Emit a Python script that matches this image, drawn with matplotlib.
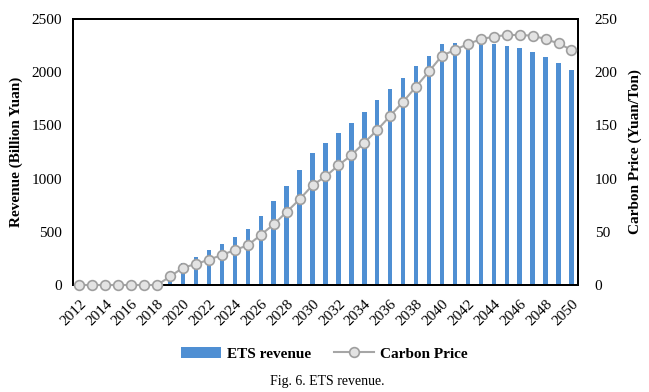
import matplotlib.pyplot as plt
import numpy as np

plt.rcParams['font.family'] = ['Liberation Serif', 'DejaVu Serif']

# Inputs
years = list(range(2012, 2051))
ets_revenue = [0, 0, 0, 0, 0, 0, 0, 40, 204, 266, 329, 388, 451, 523, 648, 786, 927,
               1081, 1244, 1335, 1432, 1526, 1629, 1736, 1839, 1945, 2055, 2155,
               2265, 2271, 2278, 2271, 2268, 2250, 2224, 2187, 2140, 2090, 2024]
carbon_price = [0, 0, 0, 0, 0, 0, 0, 8, 16.3, 19.7, 23.8, 28.2, 32.9, 37.3, 47, 57,
                68.6, 80.5, 93.7, 102, 112.5, 122, 133.8, 145.7, 159, 172.3, 186.4,
                200.8, 215.5, 221, 226.5, 231, 233.4, 235, 235, 234.3, 231.2, 227, 221]

x = np.arange(len(years))

fig = plt.figure(figsize=(6.49, 3.92), dpi=100)
ax = fig.add_axes([0.1125, 0.273, 0.778, 0.6785])
ax2 = ax.twinx()

bars = ax.bar(x, ets_revenue, width=0.34, color='#4F8FD3', label='ETS revenue', zorder=2)
line, = ax2.plot(x, carbon_price, color='#A6A6A6', linewidth=1.5, marker='o', markersize=7,
                 markerfacecolor='#E3E3E3', markeredgecolor='#9E9E9E', markeredgewidth=1.2,
                 label='Carbon Price', clip_on=False, zorder=3)

ax.set_xlim(-0.5, len(years) - 0.5)
ax.set_ylim(0, 2500)
ax2.set_ylim(0, 250)
ax.set_yticks(np.arange(0, 2501, 500))
ax2.set_yticks(np.arange(0, 251, 50))
ax.set_xticks(x[::2])
ax.set_xticklabels([str(y) for y in years[::2]], rotation=45, ha='right', rotation_mode='anchor')

for a in (ax, ax2):
    a.tick_params(length=0, labelsize=11, pad=8)
    for s in a.spines.values():
        s.set_linewidth(1.4)
        s.set_color('black')
ax.tick_params(axis='x', pad=9)
ax2.tick_params(axis='y', pad=12)

ax.set_ylabel('Revenue (Billion Yuan)', fontsize=11, fontweight='bold', labelpad=6)
ax2.set_ylabel('Carbon Price (Yuan/Ton)', fontsize=11, fontweight='bold', labelpad=8)

fig.legend([bars, line], ['ETS revenue', 'Carbon Price'], loc='center', bbox_to_anchor=(0.50, 0.097),
           ncol=2, frameon=False, prop={'weight': 'bold', 'size': 11}, handlelength=2.6,
           columnspacing=1.5, handletextpad=0.4)

fig.text(0.505, 0.028, 'Fig. 6. ETS revenue.', ha='center', va='center', fontsize=10)

fig.savefig('out.png', dpi=100)
